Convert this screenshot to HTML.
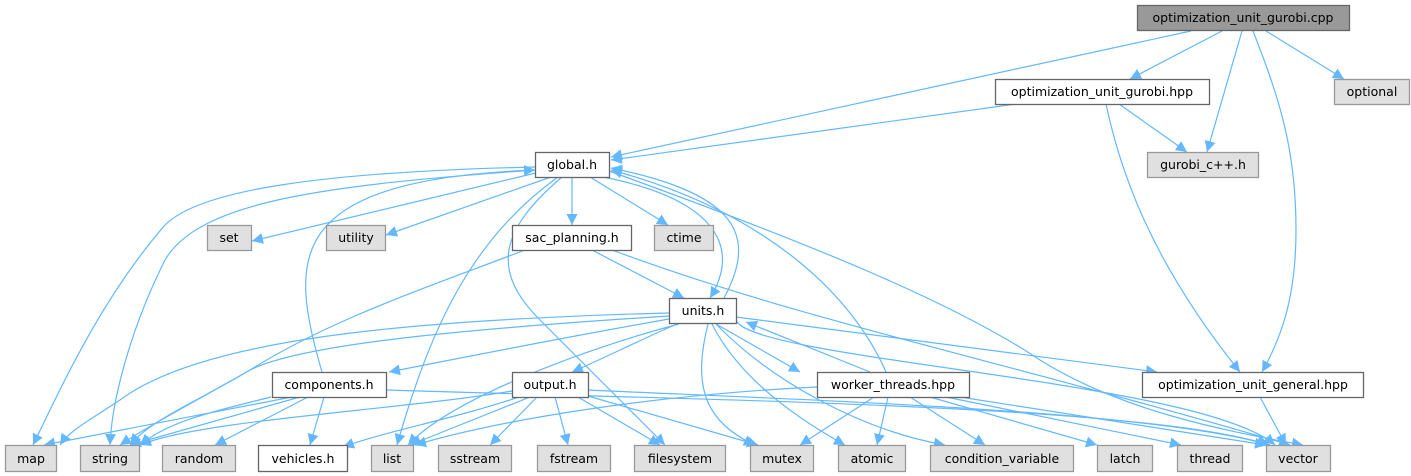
<!DOCTYPE html>
<html><head><meta charset="utf-8"><style>
html,body{margin:0;padding:0;background:#fff}
svg{display:block}
text{font-family:"DejaVu Sans","Liberation Sans",sans-serif;font-size:12.5px;fill:#000;text-anchor:middle}
.e{fill:none;stroke:#63b8ff;stroke-width:1.2}
.g{fill:#e0e0e0;stroke:#999;stroke-width:1.3}
.w{fill:#fff;stroke:#666;stroke-width:1.3}
</style></head><body>
<svg width="1411" height="476" viewBox="0 0 1411 476" xmlns="http://www.w3.org/2000/svg">
<defs><marker id="a" viewBox="0 0 10 10" refX="10" refY="5" markerWidth="11" markerHeight="11" markerUnits="userSpaceOnUse" orient="auto"><path d="M0,0 L10,5 L0,10 z" fill="#63b8ff"/></marker></defs>
<g marker-end="url(#a)">
<path class="e" d="M1191,31 L611,157"/>
<path class="e" d="M1222,31 L1130,79"/>
<path class="e" d="M1242,31 L1207,152"/>
<path class="e" d="M1253,31 C1280,100 1296,150 1296,230 C1296,300 1280,340 1262,372"/>
<path class="e" d="M1266,31 L1344,79"/>
<path class="e" d="M1016,104 L611,160"/>
<path class="e" d="M1119,104 L1187,152"/>
<path class="e" d="M1106,104 C1120,170 1150,260 1240,372"/>
<path class="e" d="M540,172 L252,241"/>
<path class="e" d="M551,177 L386,235"/>
<path class="e" d="M572,177 L572,225"/>
<path class="e" d="M590,177 L668,225"/>
<path class="e" d="M535,167 C320,172 200,190 165,225 C100,300 60,390 33,445"/>
<path class="e" d="M535,170 C330,185 200,200 165,260 C130,330 112,400 110,445"/>
<path class="e" d="M558,177 C470,240 430,330 397,445"/>
<path class="e" d="M562,177 C500,230 490,270 540,320 C580,360 640,420 665,445"/>
<path class="e" d="M603,177 C720,200 740,250 710,298"/>
<path class="e" d="M609,171 C800,240 950,300 1040,360 C1120,410 1220,430 1303,445"/>
<path class="e" d="M724,298 C755,240 745,195 611,168"/>
<path class="e" d="M886,372 C850,290 760,210 611,170"/>
<path class="e" d="M322,372 C290,260 280,180 535,170"/>
<path class="e" d="M525,250 C420,290 330,320 250,370 C180,410 150,425 120,445"/>
<path class="e" d="M592,250 L684,298"/>
<path class="e" d="M612,250 C800,320 1000,360 1290,445"/>
<path class="e" d="M669,313 C400,320 200,340 120,400 C90,420 70,430 60,445"/>
<path class="e" d="M669,316 C450,330 300,345 250,370 C200,400 150,420 130,445"/>
<path class="e" d="M669,319 C550,340 450,360 389,372"/>
<path class="e" d="M677,324 C640,340 600,360 572,372"/>
<path class="e" d="M679,324 C580,350 450,400 408,445"/>
<path class="e" d="M708,324 C694,380 700,420 755,445"/>
<path class="e" d="M712,324 C740,380 800,420 845,445"/>
<path class="e" d="M716,324 C770,380 860,430 945,445"/>
<path class="e" d="M716,324 L800,372"/>
<path class="e" d="M870,372 L746,322"/>
<path class="e" d="M736,317 L1157,372"/>
<path class="e" d="M736,320 C750,360 1200,380 1275,445"/>
<path class="e" d="M512,391 C400,410 200,420 140,445"/>
<path class="e" d="M519,397 C450,420 390,430 343,447"/>
<path class="e" d="M530,397 L410,445"/>
<path class="e" d="M537,397 L490,445"/>
<path class="e" d="M555,397 L568,445"/>
<path class="e" d="M578,397 L660,445"/>
<path class="e" d="M588,396 L758,445"/>
<path class="e" d="M588,390 C800,400 1150,410 1270,445"/>
<path class="e" d="M292,397 L44,445"/>
<path class="e" d="M300,397 L130,445"/>
<path class="e" d="M308,397 L215,445"/>
<path class="e" d="M324,397 L310,445"/>
<path class="e" d="M386,390 C700,400 1150,405 1268,445"/>
<path class="e" d="M271,397 C220,410 170,420 140,445"/>
<path class="e" d="M817,387 C650,395 500,420 415,445"/>
<path class="e" d="M874,397 L800,445"/>
<path class="e" d="M888,397 L877,445"/>
<path class="e" d="M910,397 L985,445"/>
<path class="e" d="M930,397 L1097,445"/>
<path class="e" d="M946,397 L1181,445"/>
<path class="e" d="M960,397 L1266,445"/>
<path class="e" d="M1260,397 L1286,445"/>
</g>
<rect class="g" x="1137.5" y="5.5" width="212" height="25" style="fill:#999;stroke:#666"/><text x="1243" y="22">optimization_unit_gurobi.cpp</text>
<rect class="w" x="995.5" y="79.5" width="214" height="25"/><text x="1102" y="96">optimization_unit_gurobi.hpp</text>
<rect class="g" x="1334.5" y="79.5" width="75" height="25"/><text x="1372" y="96">optional</text>
<rect class="g" x="1147.5" y="152.5" width="111" height="25"/><text x="1203" y="169">gurobi_c++.h</text>
<rect class="w" x="535.5" y="152.5" width="74" height="25"/><text x="572" y="169">global.h</text>
<rect class="g" x="207.5" y="225.5" width="44" height="25"/><text x="229" y="242">set</text>
<rect class="g" x="326.5" y="225.5" width="59" height="25"/><text x="356" y="242">utility</text>
<rect class="w" x="512.5" y="225.5" width="119" height="25"/><text x="572" y="242">sac_planning.h</text>
<rect class="g" x="654.5" y="225.5" width="59" height="25"/><text x="684" y="242">ctime</text>
<rect class="w" x="669.5" y="298.5" width="67" height="25"/><text x="703" y="315">units.h</text>
<rect class="w" x="272.5" y="372.5" width="114" height="25"/><text x="329" y="389">components.h</text>
<rect class="w" x="512.5" y="372.5" width="76" height="25"/><text x="550" y="389">output.h</text>
<rect class="w" x="817.5" y="372.5" width="152" height="25"/><text x="893" y="389">worker_threads.hpp</text>
<rect class="w" x="1142.5" y="372.5" width="221" height="25"/><text x="1253" y="389">optimization_unit_general.hpp</text>
<rect class="g" x="5.5" y="445.5" width="51" height="26"/><text x="31" y="463">map</text>
<rect class="g" x="80.5" y="445.5" width="59" height="26"/><text x="110" y="463">string</text>
<rect class="g" x="162.5" y="445.5" width="73" height="26"/><text x="199" y="463">random</text>
<rect class="w" x="258.5" y="445.5" width="89" height="26"/><text x="303" y="463">vehicles.h</text>
<rect class="g" x="371.5" y="445.5" width="42" height="26"/><text x="392" y="463">list</text>
<rect class="g" x="438.5" y="445.5" width="73" height="26"/><text x="475" y="463">sstream</text>
<rect class="g" x="537.5" y="445.5" width="73" height="26"/><text x="574" y="463">fstream</text>
<rect class="g" x="634.5" y="445.5" width="91" height="26"/><text x="680" y="463">filesystem</text>
<rect class="g" x="750.5" y="445.5" width="63" height="26"/><text x="782" y="463">mutex</text>
<rect class="g" x="838.5" y="445.5" width="67" height="26"/><text x="872" y="463">atomic</text>
<rect class="g" x="930.5" y="445.5" width="143" height="26"/><text x="1002" y="463">condition_variable</text>
<rect class="g" x="1097.5" y="445.5" width="55" height="26"/><text x="1125" y="463">latch</text>
<rect class="g" x="1177.5" y="445.5" width="65" height="26"/><text x="1210" y="463">thread</text>
<rect class="g" x="1266.5" y="445.5" width="64" height="26"/><text x="1298" y="463">vector</text>
</svg>
</body></html>
